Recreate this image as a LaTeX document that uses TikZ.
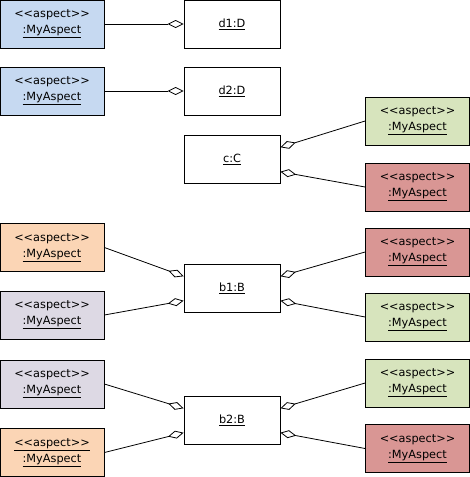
\documentclass[tikz,border=0pt]{standalone}
\usepackage{fontspec}
\setmainfont{DejaVu Sans}
\usepackage{tikz}
\usetikzlibrary{arrows.meta,calc}
\definecolor{aspblue}{HTML}{C6D9F1}
\definecolor{aspgreen}{HTML}{D7E4BD}
\definecolor{aspred}{HTML}{D99694}
\definecolor{asporange}{HTML}{FBD5B5}
\definecolor{asppurple}{HTML}{DDD9E4}
\newcommand{\aspectlabel}{{<}{<}aspect{>}{>}\\\underline{:MyAspect}}

\begin{document}
\begin{tikzpicture}[x=1pt,y=-1pt,
      every node/.style={font=\fontsize{11.3}{16}\selectfont},
      aspectbox/.style={draw,line width=0.8pt,minimum width=104pt,minimum height=48pt,align=center,inner sep=0pt},
      objbox/.style={draw,line width=0.8pt,fill=white,minimum width=96pt,minimum height=48pt,inner sep=0pt},
      agg/.style={{Diamond[open,length=16pt,width=8pt]}-, line width=0.8pt}
  ]
    \useasboundingbox (0,0) rectangle (470,477);

    % d1 and d2
    \node[aspectbox,fill=aspblue] (a1) at (52,24) {\aspectlabel};
    \node[objbox] (d1) at (232,24) {\underline{d1:D}};
    \node[aspectbox,fill=aspblue] (a2) at (52,91) {\aspectlabel};
    \node[objbox] (d2) at (232,91) {\underline{d2:D}};

    % c
    \node[objbox] (c) at (232,159.5) {\underline{c:C}};
    \node[aspectbox,fill=aspgreen] (g1) at (417.5,121) {\aspectlabel};
    \node[aspectbox,fill=aspred] (r1) at (417.5,187) {\aspectlabel};

    % b1
    \node[objbox] (b1) at (232,288.5) {\underline{b1:B}};
    \node[aspectbox,fill=asporange] (o1) at (52,247.5) {\aspectlabel};
    \node[aspectbox,fill=asppurple] (p1) at (52,315) {\aspectlabel};
    \node[aspectbox,fill=aspred] (r2) at (417.5,252) {\aspectlabel};
    \node[aspectbox,fill=aspgreen] (g2) at (417.5,317) {\aspectlabel};

    % b2
    \node[objbox] (b2) at (232,420.5) {\underline{b2:B}};
    \node[aspectbox,fill=asppurple] (p2) at (52,384) {\aspectlabel};
    \node[aspectbox,fill=asporange] (o2) at (52,452.5)
      {\underline{{<}{<}aspect{>}{>}}\\\underline{:MyAspect}};
    \node[aspectbox,fill=aspgreen] (g3) at (417.5,383) {\aspectlabel};
    \node[aspectbox,fill=aspred] (r3) at (417.5,448.5) {\aspectlabel};

    \draw[agg] (d1.west) -- (a1.east);
    \draw[agg] (d2.west) -- (a2.east);

    \draw[agg] ($(c.north east)!.25!(c.south east)$) -- (g1.west);
    \draw[agg] ($(c.north east)!.75!(c.south east)$) -- (r1.west);

    \draw[agg] ($(b1.north west)!.25!(b1.south west)$) -- (o1.east);
    \draw[agg] ($(b1.north west)!.75!(b1.south west)$) -- (p1.east);
    \draw[agg] ($(b1.north east)!.25!(b1.south east)$) -- (r2.west);
    \draw[agg] ($(b1.north east)!.75!(b1.south east)$) -- (g2.west);

    \draw[agg] ($(b2.north west)!.25!(b2.south west)$) -- (p2.east);
    \draw[agg] ($(b2.north west)!.75!(b2.south west)$) -- (o2.east);
    \draw[agg] ($(b2.north east)!.25!(b2.south east)$) -- (g3.west);
    \draw[agg] ($(b2.north east)!.75!(b2.south east)$) -- (r3.west);
  \end{tikzpicture}
\end{document}
